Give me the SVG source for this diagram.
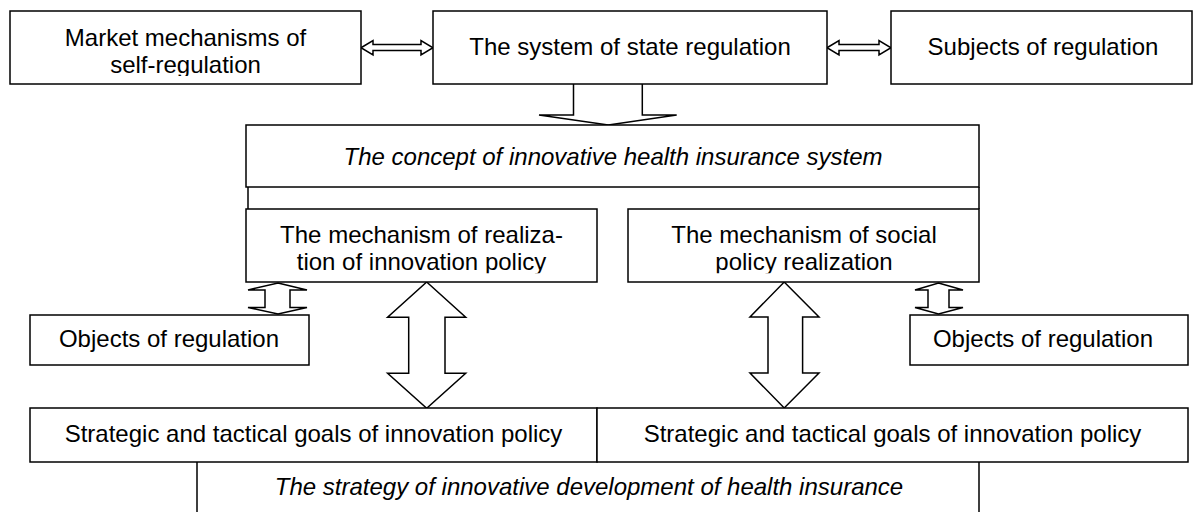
<svg xmlns="http://www.w3.org/2000/svg" width="1194" height="512" viewBox="0 0 1194 512">
<style>
.box{fill:#fff;stroke:#000;stroke-width:1.5}
.ln{fill:none;stroke:#000;stroke-width:1.5}
.arr{fill:#fff;stroke:#000;stroke-width:1.5;stroke-linejoin:miter}
text{font-family:"Liberation Sans",Arial,sans-serif;font-size:24px;fill:#000;text-anchor:middle}
.it{font-style:italic}
</style>
<defs>
<clipPath id="clipTop"><rect x="0" y="0" width="1194" height="76"/></clipPath>
<clipPath id="clipMech"><rect x="0" y="0" width="1194" height="273.3"/></clipPath>
</defs>
<rect width="1194" height="512" fill="#fff"/>
<g id="connectors">
<path class="arr" d="M361,47.75 L373,40.5 L373,44.5 L421,44.5 L421,40.5 L433,47.75 L421,55 L421,50.5 L373,50.5 L373,55 Z"/>
<path class="arr" d="M827,47.75 L839,40.5 L839,44.5 L879,44.5 L879,40.5 L891,47.75 L879,55 L879,50.5 L839,50.5 L839,55 Z"/>
<path class="arr" d="M573.5,84 L573.5,115 L539,115 L608.3,125 L676.7,115 L642.3,115 L642.3,84"/>
<path class="arr" d="M278,283 L307,290 L290,290 L290,307.5 L307,307.5 L278,314 L248,307.5 L265,307.5 L265,290 L248,290 Z"/>
<path class="arr" d="M938.5,283 L963,290 L949,290 L949,307.5 L963,307.5 L938.5,314 L915,307.5 L928,307.5 L928,290 L915,290 Z"/>
<path class="arr" d="M426.7,282 L465.7,317.3 L445,317.3 L445,373.3 L465.7,373.3 L426.7,408.3 L387.6,373.3 L408.7,373.3 L408.7,317.3 L387.6,317.3 Z"/>
<path class="arr" d="M784.2,282 L819,317 L802.6,317 L802.6,373 L819,373 L784.2,408 L750,373 L768,373 L768,317 L750,317 Z"/>
</g>
<g id="market">
<rect class="box" x="10" y="11" width="351" height="73"/>
<text x="185.5" y="46">Market mechanisms of</text>
<text x="185.5" y="73" clip-path="url(#clipTop)">self-regulation</text>
</g>
<g id="system">
<rect class="box" x="433" y="11" width="394" height="73"/>
<text x="630" y="55">The system of state regulation</text>
</g>
<g id="subjects">
<rect class="box" x="891" y="11" width="301" height="73"/>
<text x="1043" y="55">Subjects of regulation</text>
</g>
<g id="concept">
<rect class="box" x="246" y="125" width="733" height="62"/>
<path class="ln" d="M248,187 V209 M979,187 V209"/>
<text class="it" x="613" y="165">The concept of innovative health insurance system</text>
</g>
<g id="mech-innovation">
<rect class="box" x="246" y="209" width="351" height="73"/>
<text x="421.5" y="243">The mechanism of realiza-</text>
<text x="421.5" y="270" clip-path="url(#clipMech)">tion of innovation policy</text>
</g>
<g id="mech-social">
<rect class="box" x="628" y="209" width="351" height="73"/>
<text x="804" y="243">The mechanism of social</text>
<text x="804" y="270" clip-path="url(#clipMech)">policy realization</text>
</g>
<g id="objects-left">
<rect class="box" x="30" y="315" width="279" height="50"/>
<text x="169" y="347">Objects of regulation</text>
</g>
<g id="objects-right">
<rect class="box" x="910" y="315" width="278" height="50"/>
<text x="1043" y="347">Objects of regulation</text>
</g>
<g id="goals-left">
<rect class="box" x="30" y="408" width="567" height="54"/>
<text x="313.5" y="442">Strategic and tactical goals of innovation policy</text>
</g>
<g id="goals-right">
<rect class="box" x="597" y="408" width="591" height="54"/>
<text x="892.5" y="442">Strategic and tactical goals of innovation policy</text>
</g>
<g id="strategy">
<path class="ln" d="M197,462 V512 M979,462 V512"/>
<text class="it" x="589" y="495">The strategy of innovative development of health insurance</text>
</g>
</svg>
